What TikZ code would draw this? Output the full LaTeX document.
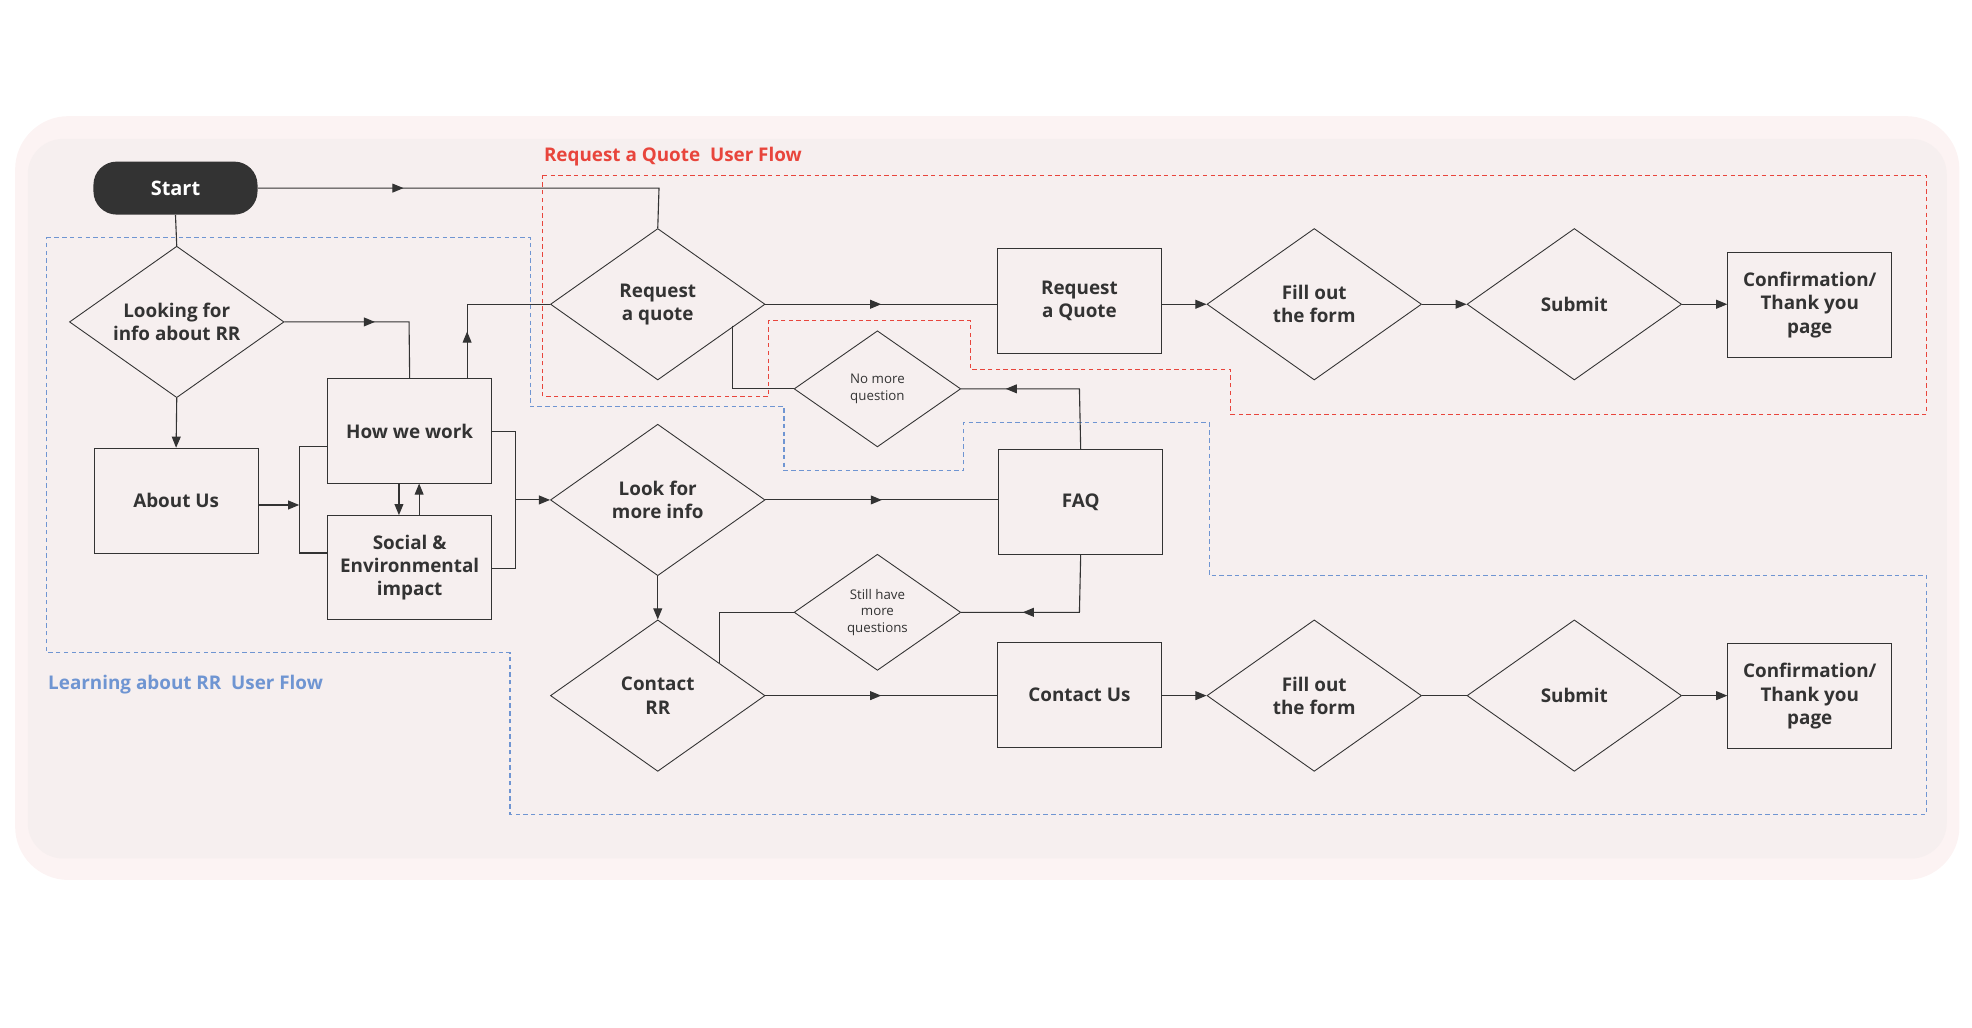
\documentclass[tikz,border=0pt]{standalone}
\usepackage{fontspec}
\setmainfont{Open Sans}
\usetikzlibrary{arrows.meta,shapes.geometric,decorations.markings,positioning}
\definecolor{dark}{HTML}{333333}
\definecolor{qred}{HTML}{E8453C}
\definecolor{lblue}{HTML}{6F95D2}
\definecolor{outerbg}{HTML}{FCF3F3}
\definecolor{innerbg}{HTML}{F6EFEF}
\tikzset{
  box/.style={draw=dark,fill=none,minimum width=2.6cm,minimum height=1.66cm,align=center,font=\fontsize{8.5}{10.5}\selectfont\bfseries,text=dark},
  dia/.style={draw=dark,diamond,aspect=1.42,minimum width=3.4cm,minimum height=2.4cm,inner sep=0pt,align=center,font=\fontsize{8.5}{10.5}\selectfont\bfseries,text=dark},
  sdia/.style={draw=dark,diamond,aspect=1.43,minimum width=2.64cm,minimum height=1.84cm,inner sep=0pt,align=center,font=\fontsize{6}{7.5}\selectfont,text=dark},
  line/.style={draw=dark,line width=0.5pt},
  arr/.style={line,-{Triangle[length=5pt,width=4pt]}},
  mid/.style={line,postaction={decorate,decoration={markings,mark=at position #1 with {\arrow{Triangle[length=5pt,width=4pt]}}}}},
  zone/.style={line width=0.5pt,dash pattern=on 2pt off 1.5pt}
}
\begin{document}
\begin{tikzpicture}[x=0.02cm,y=-0.02cm]
\useasboundingbox (0,0) rectangle (1562,814);
% panels
\fill[outerbg,rounded corners=24pt] (12,92) rectangle (1552,697);
\fill[innerbg,rounded corners=16pt] (22,110) rectangle (1542,680);

% flow zones
\draw[zone,qred] (430,139) -- (1526,139) -- (1526,328) -- (975,328) -- (975,293) -- (769,293)
  -- (769,254) -- (609,254) -- (609,314) -- (430,314) -- cycle;
\draw[zone,lblue] (37,188) -- (420,188) -- (420,322) -- (621,322) -- (621,373) -- (763,373)
  -- (763,335) -- (958,335) -- (958,456) -- (1526,456) -- (1526,645) -- (404,645)
  -- (404,517) -- (37,517) -- cycle;
\node[qred,font=\fontsize{8.5}{10}\selectfont\bfseries] (qlabel) at (533,124) {Request a Quote\ \ User Flow};
\node[lblue,font=\fontsize{8.5}{10}\selectfont\bfseries] (llabel) at (147,542) {Learning about RR\ \ User Flow};

% nodes
\node[fill=dark,rounded corners=10.5pt,minimum width=2.6cm,minimum height=0.84cm,text=white,font=\fontsize{9}{11}\selectfont\bfseries] (start) at (139,149) {Start};
\node[dia] (look) at (140,255) {Looking for\\info about RR};
\node[box] (about) at (139.5,396.5) {About Us};
\node[box] (how) at (324.5,341.5) {How we work};
\node[box] (social) at (324.5,449.5) {Social \&\\Environmental\\impact};
\node[dia] (req) at (521,241) {Request\\a quote};
\node[dia] (more) at (521,396) {Look for\\more info};
\node[dia] (contact) at (521,551) {Contact\\RR};
\node[sdia] (nomore) at (695,308) {No more\\question};
\node[sdia] (still) at (695,485) {Still have\\more\\questions};
\node[box] (quote) at (855,238.5) {Request\\a Quote};
\node[box] (faq) at (856,397.5) {FAQ};
\node[box] (cus) at (855,550.5) {Contact Us};
\node[dia] (fill1) at (1041,241) {Fill out\\the form};
\node[dia] (sub1) at (1247,241) {Submit};
\node[box] (conf1) at (1433.5,241.5) {Confirmation/\\Thank you\\page};
\node[dia] (fill2) at (1041,551) {Fill out\\the form};
\node[dia] (sub2) at (1247,551) {Submit};
\node[box] (conf2) at (1433.5,551.5) {Confirmation/\\Thank you\\page};

% connectors
\coordinate (bkl) at (237,400);
\coordinate (bkr) at (408,396);
\draw[mid=0.33] (start.east) -- (522,149) -- (req.north);
\draw[line] (start.south) -- (look.north);
\draw[mid=0.5] (look.east) -- (324,255) -- (how.north);
\draw[arr] (look.south) -- (about.north);
\draw[arr] (about.east |- bkl) -- (bkl);
\draw[line] (how.west |- 0,354) -- (237,354) -- (237,438) -- (social.west |- 0,438);
\draw[arr] (316,383) -- (316,408);
\draw[arr] (332,408) -- (332,383);
\draw[mid=0.3] (370,300) -- (370,241) -- (req.west);
\draw[line] (how.east |- 0,342) -- (408,342) -- (408,450) -- (social.east |- 0,450);
\draw[arr] (bkr) -- (more.west);
\draw[mid=0.5] (req.east) -- (quote.west |- req.east);
\draw[line] (580,258) -- (580,308) -- (nomore.west);
\draw[mid=0.75] (faq.north) -- (855,308) -- (nomore.east);
\draw[mid=0.5] (more.east) -- (faq.west |- more.east);
\draw[arr] (more.south) -- (contact.north);
\draw[mid=0.65] (faq.south) -- (855,485) -- (still.east);
\draw[line] (still.west) -- (570,485) -- (570,525);
\draw[mid=0.5] (contact.east) -- (cus.west |- contact.east);
\draw[arr] (quote.east |- fill1.west) -- (fill1.west);
\draw[arr] (fill1.east) -- (sub1.west);
\draw[arr] (sub1.east) -- (conf1.west |- sub1.east);
\draw[arr] (cus.east |- fill2.west) -- (fill2.west);
\draw[line] (fill2.east) -- (sub2.west);
\draw[arr] (sub2.east) -- (conf2.west |- sub2.east);
\end{tikzpicture}
\end{document}
